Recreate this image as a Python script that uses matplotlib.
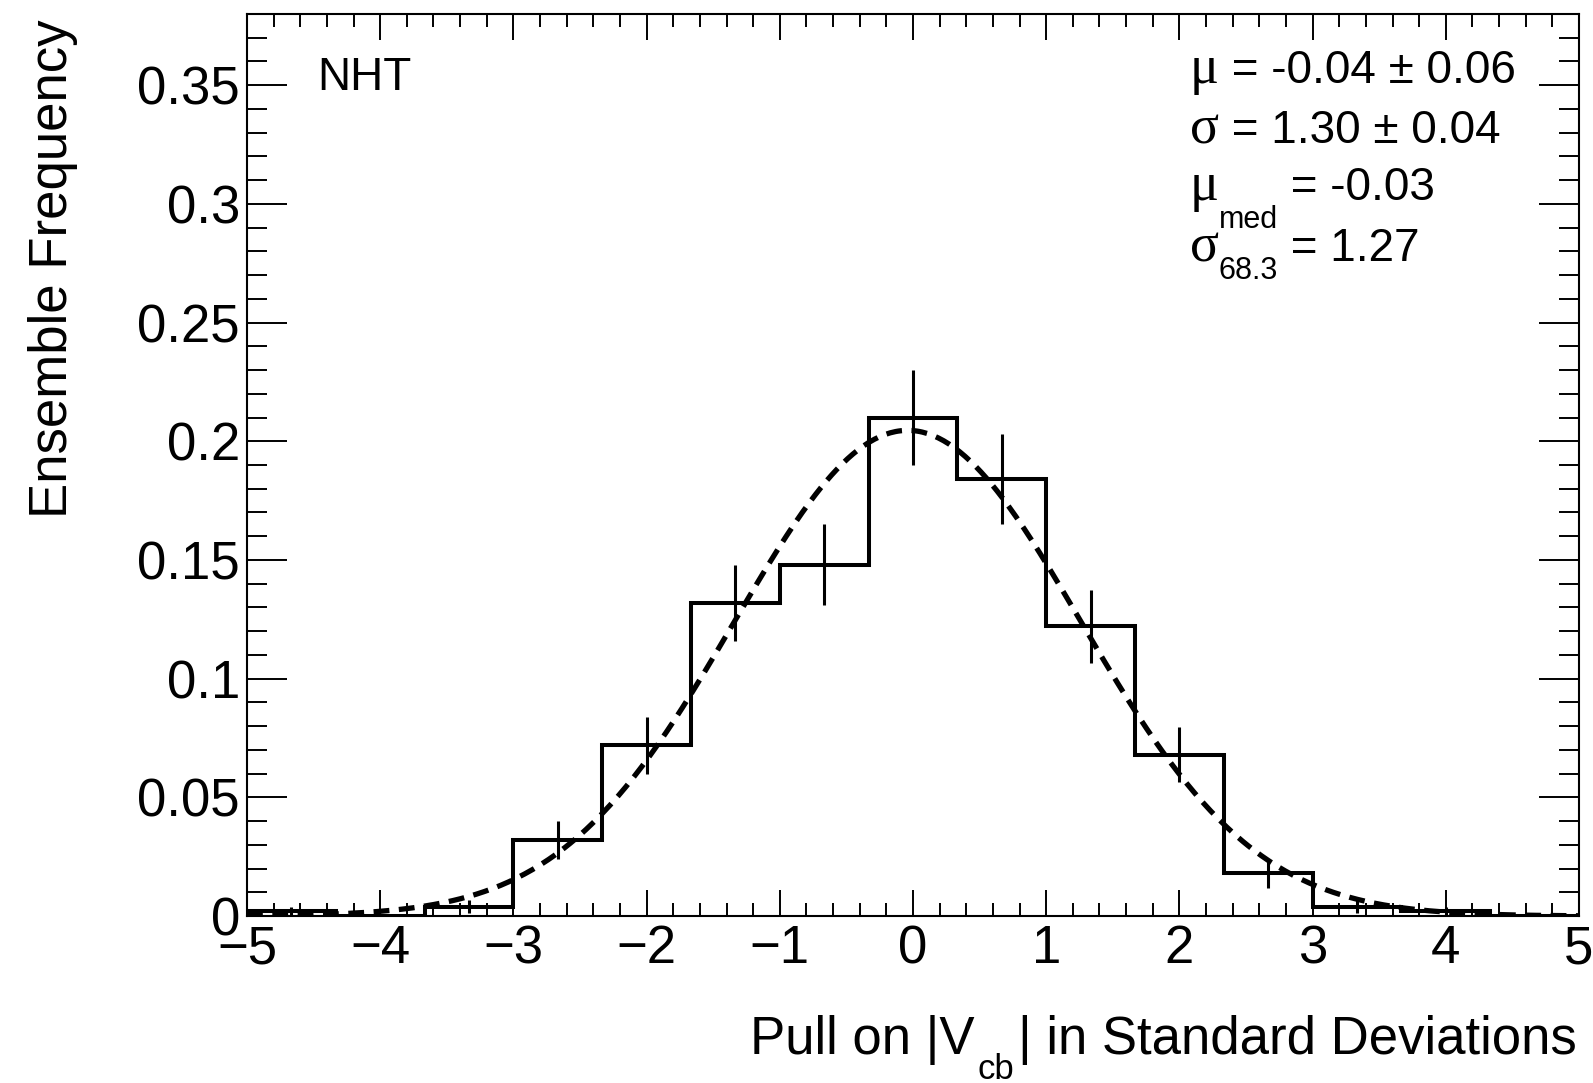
import numpy as np
import matplotlib
matplotlib.use('Agg')
import matplotlib.pyplot as plt
from matplotlib.ticker import MultipleLocator, FuncFormatter

SANS = ['Liberation Sans', 'DejaVu Sans']
SERIF = ['Liberation Serif', 'DejaVu Serif']
plt.rcParams['font.family'] = SANS

# pull histogram, 15 bins between -5 and 5
bin_edges = np.linspace(-5, 5, 16)
frequency = [0.002, 0.0, 0.004, 0.032, 0.072, 0.132, 0.148, 0.210,
             0.184, 0.122, 0.068, 0.018, 0.004, 0.002, 0.0]
freq_err = [0.002, 0.0, 0.0028, 0.008, 0.012, 0.016, 0.017, 0.020,
            0.019, 0.0155, 0.0115, 0.006, 0.0028, 0.002, 0.0]

# gaussian fit result (shown in the stat box)
mu_fit = -0.04
sigma_fit = 1.30
stat_lines = ['μ', ' = -0.04 ± 0.06', 'σ', ' = 1.30 ± 0.04',
              'μ', 'med', ' = -0.03', 'σ', '68.3', ' = 1.27']

W, H = 1593, 1083
fig = plt.figure(figsize=(W / 100, H / 100), dpi=100)
ax = fig.add_axes([247 / W, 1 - 916 / H, (1579 - 247) / W, (916 - 14) / H])

centers = 0.5 * (bin_edges[1:] + bin_edges[:-1])
bw = bin_edges[1] - bin_edges[0]
f = np.array(frequency)
e = np.array(freq_err)

ax.stairs(f, bin_edges, color='black', linewidth=2.9, baseline=0)
m = e > 0
ax.errorbar(centers[m], f[m], yerr=e[m], fmt='none', ecolor='black',
            elinewidth=2.2, capsize=0)

xf = np.linspace(-5, 5, 500)
yf = bw * np.exp(-0.5 * ((xf - mu_fit) / sigma_fit) ** 2) / (np.sqrt(2 * np.pi) * sigma_fit)
ax.plot(xf, yf, color='black', linewidth=3.8, linestyle=(0, (3, 1.8)))

ax.set_xlim(-5, 5)
ax.set_ylim(0, 0.38)
ax.xaxis.set_major_locator(MultipleLocator(1))
ax.xaxis.set_minor_locator(MultipleLocator(0.2))
ax.yaxis.set_major_locator(MultipleLocator(0.05))
ax.yaxis.set_minor_locator(MultipleLocator(0.01))
ax.yaxis.set_major_formatter(FuncFormatter(lambda v, p: '%g' % round(v, 3)))
ax.tick_params(which='both', direction='in', top=True, right=True,
               width=1.4, labelsize=38)
ax.tick_params(axis='x', which='major', length=18.7, pad=6)
ax.tick_params(axis='x', which='minor', length=9.4)
ax.tick_params(axis='y', which='major', length=28.8, pad=5)
ax.tick_params(axis='y', which='minor', length=14.4)
for s in ax.spines.values():
    s.set_linewidth(1.5)


def put(s, x, y, size, fam=SANS, after=None, ha='left', gap=0):
    # y given in pixels from the top of the image
    if after is None:
        return fig.text(x / W, 1 - y / H, s, fontsize=size, family=fam,
                        ha=ha, va='baseline')
    return ax.annotate(s, xy=(1 if ha == 'left' else 0, H - y),
                       xycoords=(after, 'figure pixels'),
                       xytext=(gap, 0), textcoords='offset points',
                       fontsize=size, family=fam, ha=ha, va='baseline',
                       annotation_clip=False)


# y title
fig.text(53 / W, 1 - 20 / H, 'Ensemble Frequency', fontsize=38,
         rotation=90, ha='center', va='top')

# x title, built right to left
t3 = put('| in Standard Deviations', 1577, 1054, 38, ha='right')
t2 = put('cb', 0, 1079, 25, after=t3, ha='right', gap=-3)
put('Pull on |V', 0, 1054, 38, after=t2, ha='right', gap=-2)

fig.text(317 / W, 1 - 90 / H, 'NHT', fontsize=33, va='baseline')

# stat box
g = 39  # greek letters drawn a bit larger, like the Symbol font
a = put(stat_lines[0], 1190, 83, g, fam=SERIF)
put(stat_lines[1], 0, 83, 33, after=a)
a = put(stat_lines[2], 1190, 143, g, fam=SERIF)
put(stat_lines[3], 0, 143, 33, after=a)
a = put(stat_lines[4], 1190, 200, g, fam=SERIF)
b = put(stat_lines[5], 0, 228, 22, after=a)
put(stat_lines[6], 0, 200, 33, after=b)
a = put(stat_lines[7], 1190, 261, g, fam=SERIF)
b = put(stat_lines[8], 0, 279, 22, after=a)
put(stat_lines[9], 0, 261, 33, after=b)

fig.savefig('out.png', dpi=100)
